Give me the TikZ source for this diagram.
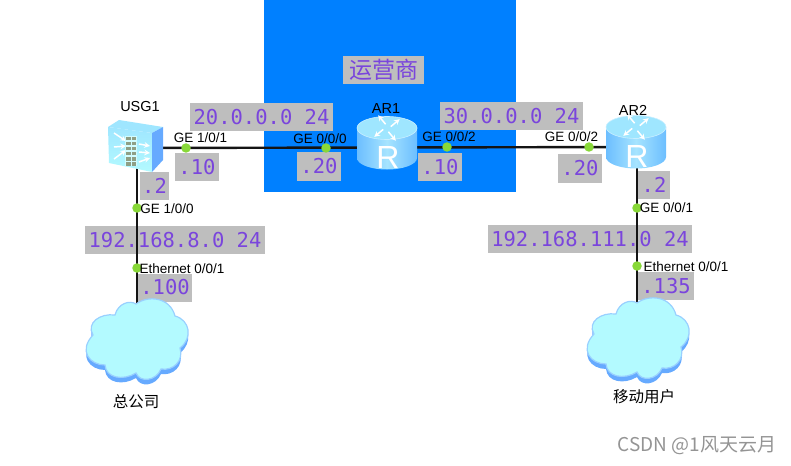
\documentclass[tikz,border=0pt]{standalone}
\usepackage{fontspec}
\setmainfont{Liberation Sans}
\newfontfamily\cjkfont{Noto Sans CJK SC}
\newfontfamily\ipfont{DejaVu Sans Mono}
\definecolor{ispblue}{HTML}{0080FF}
\definecolor{ipgray}{HTML}{BEBEBE}
\definecolor{ippurple}{HTML}{7A45DC}
\definecolor{portgreen}{HTML}{88D838}
\definecolor{cloudfill}{HTML}{B3FAFF}
\definecolor{cloudedge}{HTML}{99D0FF}
\definecolor{cloudshade}{HTML}{66AAFF}
\definecolor{routerside}{HTML}{6CBEFF}
\definecolor{routermid}{HTML}{A6E4FF}
\definecolor{routertop}{HTML}{9FE6FF}
\definecolor{brick}{HTML}{8F9F86}
\newcommand{\cloudpath}{(37,22) .. controls (40,10) and (52,7) .. (58,11)
  .. controls (70,2) and (92,4) .. (97,23)
  .. controls (112,27) and (115,45) .. (102,55)
  .. controls (106,68) and (95,78) .. (83,76)
  .. controls (78,88) and (62,90) .. (58,80)
  .. controls (45,88) and (28,85) .. (27,72)
  .. controls (12,72) and (0,58) .. (15,42)
  .. controls (8,30) and (22,20) .. cycle}
\tikzset{
  cloudpic/.pic={
    \fill[cloudshade, yshift=-5pt] \cloudpath;
    \fill[cloudfill, draw=cloudedge, line width=1.2pt] \cloudpath;
  },
  routerpic/.pic={
    \shade[left color=routerside, right color=routerside, middle color=routermid]
      (-30,-19) -- (-30,11) arc[start angle=180, end angle=0, x radius=30, y radius=11.5]
      -- (30,-19) -- cycle;
    \fill[routertop, draw=routermid!60!white, line width=0.6pt]
      (0,-19) ellipse[x radius=30, y radius=11.5];
    \foreach \ang in {20,110,200,290}
      \draw[-stealth, white, line width=1.5pt, rotate around={\ang:(0,-19)}]
        (4,-19) -- (15,-23);
    \node[text=white, font=\fontsize{32}{32}\selectfont, inner sep=0pt] (letter) at (1,10) {R};
  },
  usgpic/.pic={
    \fill[routertop] (-29,-21) -- (-18,-28) -- (26,-21) -- (15,-15) -- cycle;
    \fill[cloudshade] (15,-15) -- (26,-21) -- (26,12) -- (15,24) -- cycle;
    \shade[top color=routertop, bottom color=cloudfill]
      (-29,-21) -- (15,-15) -- (15,24) -- (-28,15) -- cycle;
    % arrows on both sides of the wall
    \foreach \ya/\yb in {-15/-7,-1/-2,11/2}
      \draw[-stealth, white, line width=1.5pt] (-23,\ya) -- (-11,\yb);
    \foreach \ya/\yb in {-4/-2,4/5,14/10}
      \draw[-stealth, white, line width=1.5pt] (2,\ya) -- (13,\yb);
    % brick wall
    \fill[cloudfill!60!white] (-12,-12) rectangle (0,18);
    \foreach \yy in {-11,-6,-1,4,9,14} {
      \fill[brick] (-11,\yy) rectangle (-6.5,{\yy+3.5});
      \fill[brick] (-5,\yy) rectangle (-0.8,{\yy+3.5});
    }
  },
  link/.style={draw=black!92, line width=2.4pt},
  portdot/.style={circle, fill=portgreen, minimum size=9.5pt, inner sep=0pt},
  portlab/.style={font=\fontsize{13.5}{14}\selectfont, text=black, inner sep=0pt},
  devlab/.style={font=\fontsize{14.5}{15}\selectfont, text=black, inner sep=0pt},
  sitelab/.style={font=\cjkfont\fontsize{15.5}{16}\selectfont, text=black, inner sep=0pt},
  devnode/.style={inner sep=0pt, minimum size=1pt},
  iplab/.style={
    rectangle, fill=ipgray, text=ippurple, inner sep=0pt,
    minimum height=28pt, font=\ipfont\fontsize{20.5}{22}\selectfont,
  },
}
\begin{document}
\begin{tikzpicture}[x=1pt, y=-1pt]
  \useasboundingbox (0,0) rectangle (791,465);

  % ---- provider area ----
  \node[fill=ispblue, minimum width=252pt, minimum height=192pt, inner sep=0pt] (isp) at (390,96) {};
  \node[iplab, minimum width=81pt, font=\cjkfont\fontsize{23}{24}\selectfont] (ispname) at (383.5,70) {运营商};

  % ---- device anchors ----
  \node[devnode] (usg1) at (137,148) {};
  \node[devnode] (ar1) at (387,147.5) {};
  \node[devnode] (ar2) at (637,147) {};
  \node[devnode] (hq) at (137,340) {};
  \node[devnode] (mobile) at (637,340) {};

  % ---- addresses ----
  \node[iplab, minimum width=143pt] (net20) at (261.5,117.5) {20.0.0.0 24};
  \node[iplab, minimum width=143pt] (net30) at (511.5,116) {30.0.0.0 24};
  \node[iplab, minimum width=180pt] (net8) at (175,240) {192.168.8.0 24};
  \node[iplab, minimum width=204pt] (net111) at (590,239) {192.168.111.0 24};
  \node[iplab, minimum width=44pt] (ipa) at (197,167) {.10};
  \node[iplab, minimum width=44pt] (ipb) at (319,166.5) {.20};
  \node[iplab, minimum width=44pt] (ipc) at (440,167) {.10};
  \node[iplab, minimum width=44pt] (ipd) at (580,168.5) {.20};
  \node[iplab, minimum width=29pt] (ipe) at (154.5,186) {.2};
  \node[iplab, minimum width=32pt] (ipf) at (654,185) {.2};
  \node[iplab, minimum width=54pt] (ipg) at (165,287.5) {.100};
  \node[iplab, minimum width=56pt] (iph) at (666,286) {.135};

  % ---- links ----
  \draw[link] (usg1) -- (ar1);
  \draw[link] (ar1) -- (ar2);
  \draw[link] (usg1) -- (hq);
  \draw[link] (ar2) -- (mobile);

  % ---- ports ----
  \node[portdot] (p1) at (186,148) {};
  \node[portdot] (p2) at (326,148) {};
  \node[portdot] (p3) at (447,147) {};
  \node[portdot] (p4) at (589,147) {};
  \node[portdot] (p5) at (137,208) {};
  \node[portdot] (p6) at (137,268) {};
  \node[portdot] (p7) at (637,208) {};
  \node[portdot] (p8) at (637,266) {};

  % ---- devices ----
  \pic (usgicon) at (137,148) {usgpic};
  \pic (aronei) at (387,147) {routerpic};
  \pic (artwoi) at (636,146) {routerpic};
  \pic (hqcloud) at (78,293) {cloudpic};
  \pic (mobcloud) at (579,292) {cloudpic};

  % ---- names ----
  \node[devlab] (usgname) at (140,107) {USG1};
  \node[devlab] (arone) at (386,109) {AR1};
  \node[devlab] (artwo) at (633,110) {AR2};
  \node[sitelab] (hqname) at (136,402) {总公司};
  \node[sitelab] (mobname) at (644,397) {移动用户};

  \node[portlab] at (200.5,138) (t1) {GE 1/0/1};
  \node[portlab] at (320,139) (t2) {GE 0/0/0};
  \node[portlab] at (449,137) (t3) {GE 0/0/2};
  \node[portlab] at (571.5,137) (t4) {GE 0/0/2};
  \node[portlab] at (167,209) (t5) {GE 1/0/0};
  \node[portlab] at (182,268.5) (t6) {Ethernet 0/0/1};
  \node[portlab] at (666.5,208) (t7) {GE 0/0/1};
  \node[portlab] at (686,267) (t8) {Ethernet 0/0/1};

  \node[text=black!42, inner sep=0pt, font=\cjkfont\fontsize{19}{20}\selectfont] (mark) at (697,446) {CSDN @1风天云月};
\end{tikzpicture}
\end{document}
